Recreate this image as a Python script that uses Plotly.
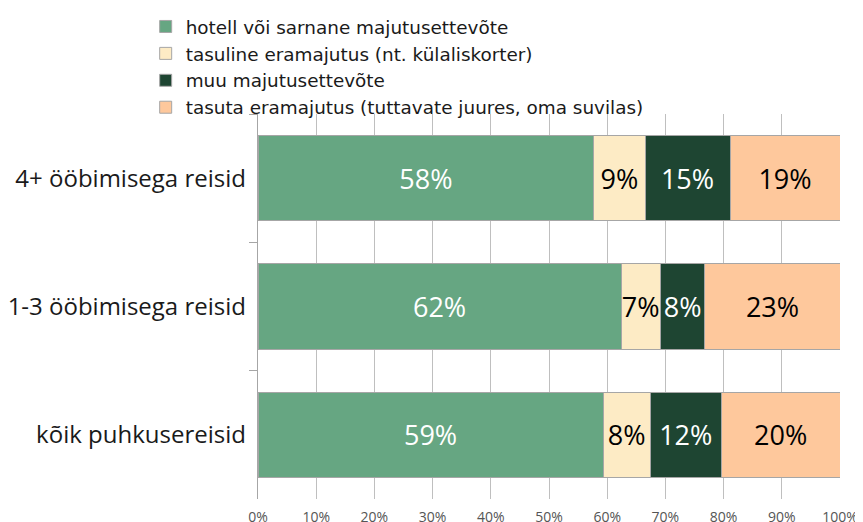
import plotly.graph_objects as go

categories = ["4+ ööbimisega reisid", "1-3 ööbimisega reisid", "kõik puhkusereisid"]
series_names = [
    "hotell või sarnane majutusettevõte",
    "tasuline eramajutus (nt. külaliskorter)",
    "muu majutusettevõte",
    "tasuta eramajutus (tuttavate juures, oma suvilas)",
]
hotell = [57.7, 62.4, 59.3]
tasuline = [8.8, 6.7, 8.1]
muu = [14.6, 7.7, 12.2]
tasuta = [18.9, 23.2, 20.4]
x_ticks = [0, 10, 20, 30, 40, 50, 60, 70, 80, 90, 100]
x_tick_labels = [f"{t}%" for t in x_ticks]

colors = ["#66a682", "#fdebc5", "#1e4532", "#fec89c"]
text_colors = ["white", "black", "white", "black"]
values = [hotell, tasuline, muu, tasuta]

fig = go.Figure()
for name, vals, c, tc in zip(series_names, values, colors, text_colors):
    fig.add_trace(go.Bar(
        y=categories, x=vals, name=name, orientation="h",
        marker=dict(color=c, line=dict(color="#a6a6a6", width=1)),
        texttemplate="%{x:.0f}%", textposition="inside", insidetextanchor="middle",
        textangle=0,
        textfont=dict(color=tc, size=27, family="Open Sans"),
        constraintext="none",
    ))

# page body adds an 8px offset; figure is sized so the plot lands where the reference has it
fig.update_layout(
    barmode="stack",
    bargap=0.337,
    width=855, height=514,
    margin=dict(l=250, r=23, t=0, b=23, pad=0),
    paper_bgcolor="white", plot_bgcolor="white",
    font=dict(family="Open Sans", color="#1a1a1a"),
    showlegend=True,
    legend=dict(
        xref="paper", yref="paper", x=-0.193, y=1.0,
        xanchor="left", yanchor="top",
        font=dict(size=18.4, family="DejaVu Sans", color="#1a1a1a"),
        tracegroupgap=0, itemwidth=30,
        traceorder="normal",
        bgcolor="rgba(0,0,0,0)",
    ),
    xaxis=dict(
        range=[0, 100], tickvals=x_ticks, ticktext=x_tick_labels,
        showgrid=True, gridcolor="#bfbfbf", gridwidth=1,
        zeroline=False, showline=False,
        ticks="outside", ticklen=5, tickcolor="rgba(0,0,0,0)",
        tickfont=dict(size=14, color="#555555", family="Open Sans"),
        automargin=False, fixedrange=True,
    ),
    yaxis=dict(
        domain=[0, 0.7841],
        categoryorder="array", categoryarray=categories, autorange="reversed",
        showline=True, linecolor="#a6a6a6", linewidth=1,
        ticks="outside", tickson="boundaries", ticklen=8, tickcolor="#a6a6a6",
        tickfont=dict(size=24, color="#1a1a1a", family="Open Sans"),
        ticksuffix=" ", automargin=False, showgrid=False,
    ),
)

fig.write_html("out.html")
